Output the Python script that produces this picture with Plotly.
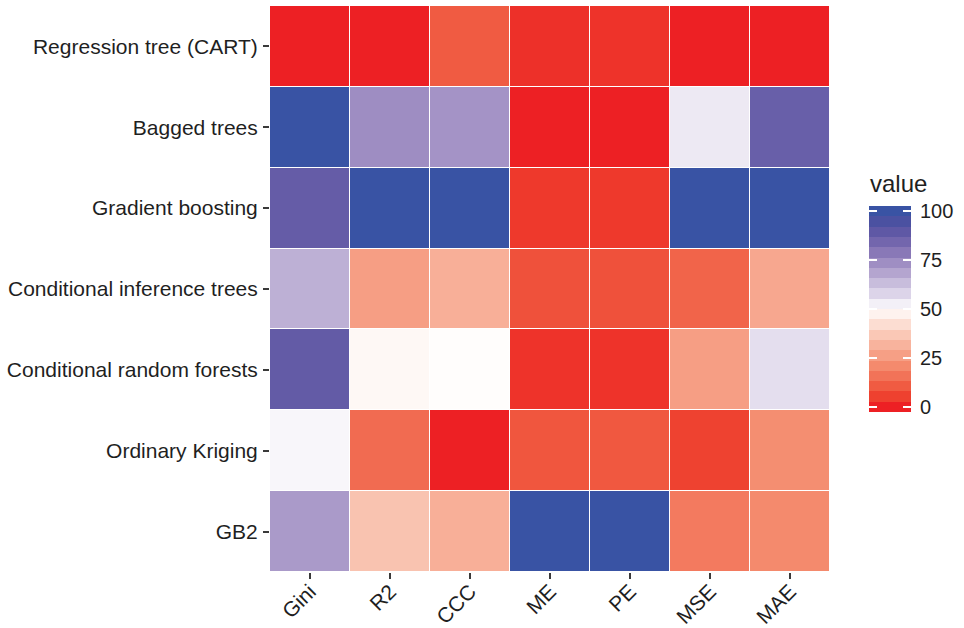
import numpy as np
import plotly.graph_objects as go

# ---------------- data ----------------
methods = ["Regression tree (CART)", "Bagged trees", "Gradient boosting",
           "Conditional inference trees", "Conditional random forests",
           "Ordinary Kriging", "GB2"]
metrics = ["Gini", "R2", "CCC", "ME", "PE", "MSE", "MAE"]

row_cart = [0, 0, 10.5, 2.5, 3.0, 0, 0]
row_bagged = [100, 74, 72.5, 0, 0, 54, 87]
row_gboost = [88, 100, 100, 4.0, 4.0, 100, 100]
row_cinf = [66, 26, 30.5, 8.5, 8.5, 12.5, 28.5]
row_crf = [88.5, 48.5, 49.5, 3.0, 3.0, 26, 56]
row_ok = [51.5, 14, 0, 9.5, 10, 5.5, 22]
row_gb2 = [71, 35.5, 30.5, 100, 100, 17.5, 21]

legend_ticks = [0, 25, 50, 75, 100]
legend_nbin = 20

# colour stops of the diverging palette (value, colour)
palette_values = [0, 5.26, 10.53, 15.79, 21.05, 26.32, 31.58, 36.84, 42.11, 47.37,
                  50, 52.63, 57.89, 63.16, 68.42, 73.68, 78.95, 84.21, 89.47, 94.74, 100]
palette_colors = ["#ED2024", "#EE412F", "#F05B42", "#F27358", "#F48A6D", "#F69F85",
                  "#F8B39D", "#FAC8B6", "#FCDDD2", "#FEF2EE",
                  "#FFFFFF", "#F3F0F7", "#DCD4E9", "#C8BDDC", "#B4A5CF", "#9F8EC3",
                  "#8978B7", "#7366AD", "#5F58A5", "#4B51A1", "#3953A4"]

colorscale = [[v / 100.0, c] for v, c in zip(palette_values, palette_colors)]

z = [row_cart, row_bagged, row_gboost, row_cinf, row_crf, row_ok, row_gb2]

FONT = "Liberation Sans, Arial, sans-serif"
TXT = "#1f1f1f"

fig = go.Figure()
fig.add_trace(go.Heatmap(
    z=z, x=metrics, y=methods, zmin=0, zmax=100,
    colorscale=colorscale, showscale=False, xgap=1, ygap=1,
    xaxis="x", yaxis="y"))

# stepped legend bar
leg_vals = np.linspace(0, 100, legend_nbin)
half = (leg_vals[1] - leg_vals[0]) / 2
fig.add_trace(go.Heatmap(
    z=[[v] for v in leg_vals], x=[0], y=leg_vals, zmin=0, zmax=100,
    colorscale=colorscale, showscale=False, xaxis="x2", yaxis="y2",
    hoverinfo="skip"))

W, H = 964, 628
ml, mr, mt, mb = 270, 20, 6, 56
pw, ph = W - ml - mr, H - mt - mb
main_right = 560 / pw
bar_x0 = (869 - ml) / pw
bar_x1 = (911 - ml) / pw
bar_y0 = (H - mb - 412) / ph
bar_y1 = (H - mb - 206) / ph
leg_range = [leg_vals[0] - half, leg_vals[-1] + half]

fig.update_layout(
    width=W, height=H,
    margin=dict(l=ml, r=mr, t=mt, b=mb),
    paper_bgcolor="white", plot_bgcolor="white",
    font=dict(family=FONT, color=TXT),
    xaxis=dict(domain=[0, main_right], anchor="y", tickangle=-45,
               ticks="outside", ticklen=6, tickwidth=2, tickcolor="#3a3a3a",
               tickfont=dict(size=21, color=TXT, family=FONT),
               showgrid=False, zeroline=False, showline=False,
               automargin=False, ticklabelstandoff=-8),
    yaxis=dict(domain=[0, 1], anchor="x", autorange="reversed",
               ticks="outside", ticklen=6, tickwidth=2, tickcolor="#3a3a3a",
               tickfont=dict(size=21, color=TXT, family=FONT),
               showgrid=False, zeroline=False, showline=False,
               automargin=False, ticklabelstandoff=1),
    xaxis2=dict(domain=[bar_x0, bar_x1], anchor="y2", range=[-0.5, 0.5],
                visible=False, fixedrange=True),
    yaxis2=dict(domain=[bar_y0, bar_y1], anchor="x2", side="right",
                range=leg_range, tickvals=legend_ticks,
                ticks="inside", ticklen=8, tickwidth=2, tickcolor="white",
                tickfont=dict(size=20, color=TXT, family=FONT),
                showgrid=False, zeroline=False, showline=False,
                automargin=False, ticklabelstandoff=8, layer="above traces"),
    yaxis3=dict(overlaying="y2", anchor="x2", side="left",
                range=leg_range, tickvals=legend_ticks,
                ticks="inside", ticklen=8, tickwidth=2, tickcolor="white",
                showticklabels=False, showgrid=False, zeroline=False,
                showline=False, layer="above traces"),
    annotations=[dict(text="value", xref="paper", yref="paper",
                      x=bar_x0 - 0.002, y=(H - mb - 183) / ph,
                      xanchor="left", yanchor="middle", showarrow=False,
                      font=dict(size=24, color=TXT, family=FONT))],
)

# invisible trace so yaxis3 is rendered
fig.add_trace(go.Scatter(x=[0], y=[50], xaxis="x2", yaxis="y3",
                         mode="markers", marker=dict(opacity=0),
                         hoverinfo="skip", showlegend=False))

fig.write_html("out.html", config={"displayModeBar": False},
               post_script="document.body.style.margin='0';document.body.style.overflow='hidden';")
